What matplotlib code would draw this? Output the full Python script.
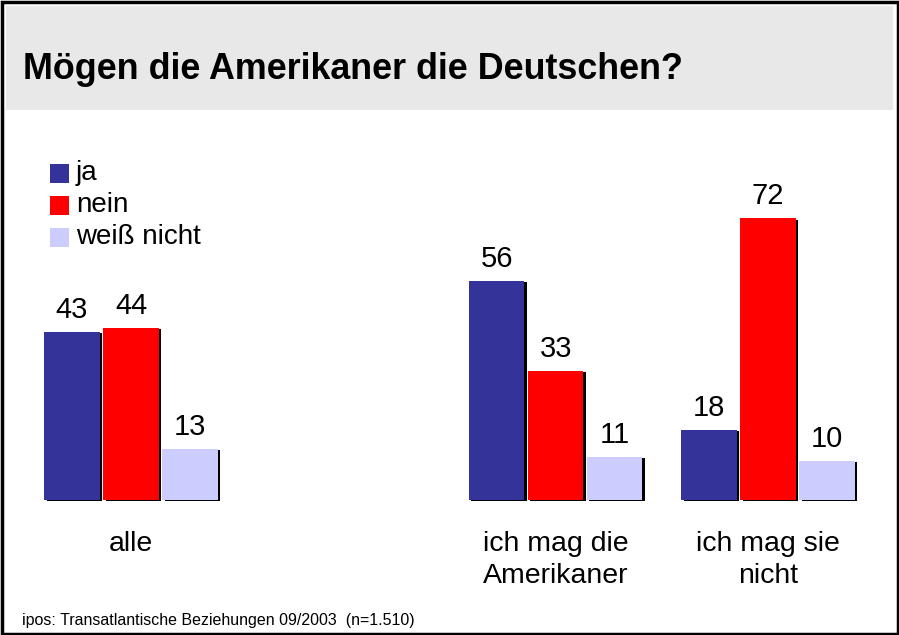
import matplotlib
matplotlib.use("Agg")
import matplotlib.pyplot as plt
from matplotlib.patches import Rectangle
import numpy as np

plt.rcParams['font.family'] = ['Liberation Sans', 'DejaVu Sans']

title = "Mögen die Amerikaner die Deutschen?"
categories = ["alle", "ich mag die\nAmerikaner", "ich mag sie\nnicht"]
series_names = ["ja", "nein", "weiß nicht"]
ja = [43, 56, 18]
nein = [44, 33, 72]
weiss_nicht = [13, 11, 10]
source = "ipos: Transatlantische Beziehungen 09/2003  (n=1.510)"

colors = ["#333399", "#FF0000", "#CCCCFF"]
series = [ja, nein, weiss_nicht]

W, H = 899, 635
fig = plt.figure(figsize=(W / 100, H / 100), dpi=100)

# background frame + title band (figure pixel coords)
fig.patches.append(Rectangle((6 / W, (H - 110) / H), (893 - 6) / W, (110 - 6) / H,
                             transform=fig.transFigure, facecolor="#E8E8E8",
                             edgecolor="none", zorder=0))
fig.patches.append(Rectangle((1.5 / W, 1.5 / H), (W - 3) / W, (H - 3) / H,
                             transform=fig.transFigure, facecolor="none",
                             edgecolor="black", linewidth=2.5, zorder=5))

ax = fig.add_axes([0, 0, 1, 1])
ax.set_axis_off()

# pixel mapping
unit_px = 212.33
x0_px = 131.0
base_px = 500.0
vpx = 3.91
ax.set_xlim(-x0_px / unit_px, (W - x0_px) / unit_px)
ax.set_ylim(-(H - base_px) / vpx, base_px / vpx)

group_pos = np.array([0.0, 2.0, 3.0])
bw = 55.5 / unit_px
step = 59.0 / unit_px
sdx = 2.5 / unit_px
sdy = 1.2 / vpx

for i, (vals, col) in enumerate(zip(series, colors)):
    xs = group_pos + (i - 1) * step
    ax.bar(xs + sdx, vals, width=bw, bottom=-sdy, color="black", zorder=1)
    ax.bar(xs, vals, width=bw, color=col, zorder=2)
    for x, v in zip(xs, vals):
        ax.text(x, v + 14 / vpx, str(v), ha="center", va="baseline",
                fontsize=21, color="black", zorder=3)

for x, c in zip(group_pos, categories):
    ax.text(x, -31 / vpx, c, ha="center", va="top", fontsize=20.5,
            linespacing=1.3, color="black")

# legend
for i, (name, col) in enumerate(zip(series_names, colors)):
    yc = H - (173 + 32 * i)
    fig.patches.append(Rectangle((50 / W, (yc - 9.5) / H), 19 / W, 19 / H,
                                 transform=fig.transFigure, facecolor=col,
                                 edgecolor="none"))
    fig.text(76 / W, yc / H, name, ha="left", va="center", fontsize=20)

fig.text(23 / W, (H - 79) / H, title, ha="left", va="baseline",
         fontsize=25.8, fontweight="bold")
fig.text(22 / W, (H - 620) / H, source, ha="left", va="center", fontsize=11.5)

fig.savefig("out.png", dpi=100)
